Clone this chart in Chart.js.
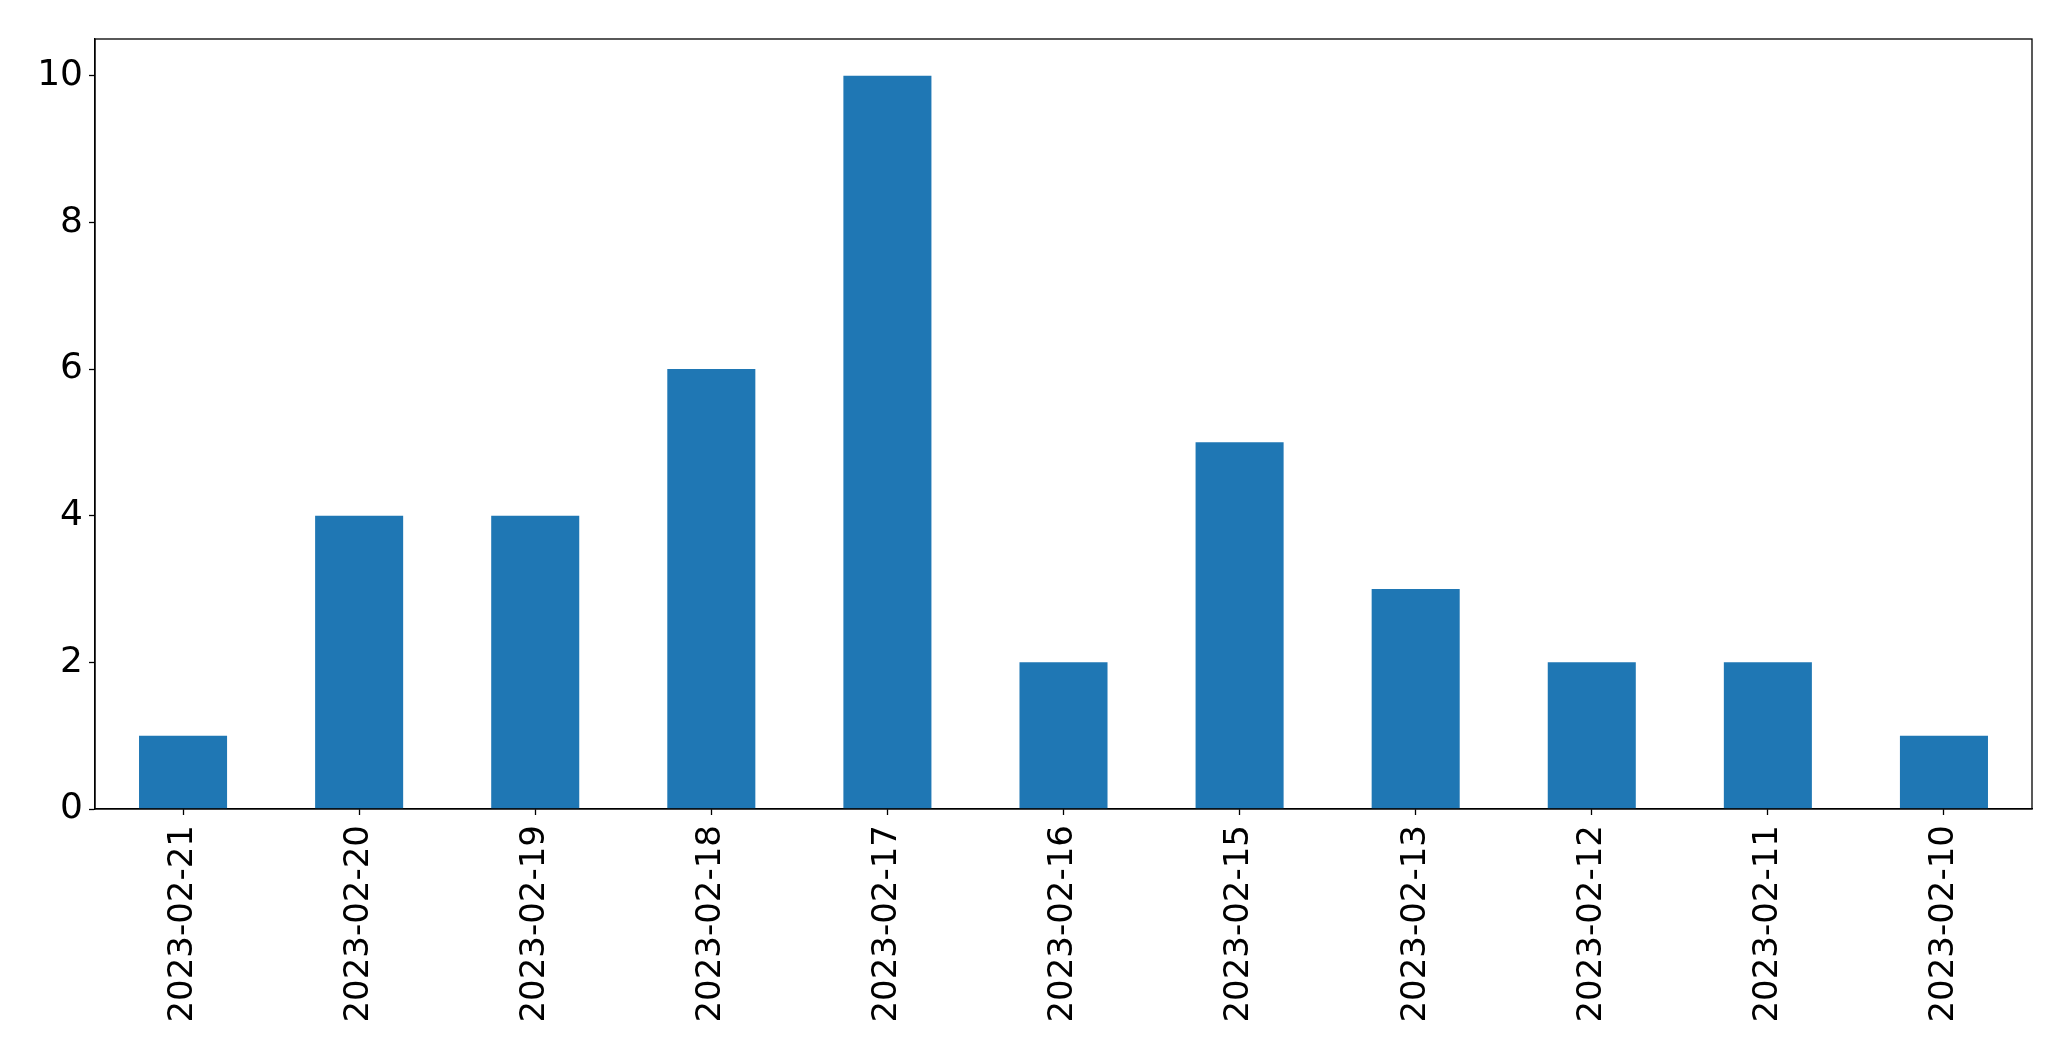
<!DOCTYPE html>
<html>
<head>
<meta charset="utf-8">
<script src="https://cdn.jsdelivr.net/npm/chart.js@4/dist/chart.umd.min.js"></script>
<style>
  html, body { margin: 0; padding: 0; background: #fff; }
  canvas { display: block; }
</style>
</head>
<body>
<canvas id="chart" width="2071" height="1061"></canvas>
<script>
// dates, newest first, as in the source plot
const dates = ['2023-02-21', '2023-02-20', '2023-02-19', '2023-02-18', '2023-02-17', '2023-02-16',
  '2023-02-15', '2023-02-13', '2023-02-12', '2023-02-11', '2023-02-10'];
const counts = [1, 4, 4, 6, 10, 2, 5, 3, 2, 2, 1];
const yTicks = [0, 2, 4, 6, 8, 10];

// draw the frame round the plot area
const frame = {
  id: 'frame',
  afterDraw(chart) {
    const a = chart.chartArea;
    const ctx = chart.ctx;
    ctx.save();
    ctx.strokeStyle = '#000';
    ctx.lineWidth = 1.3;
    ctx.strokeRect(a.left, a.top, a.right - a.left, a.bottom - a.top);
    ctx.restore();
  }
};

const ctx = document.getElementById('chart').getContext('2d');
new Chart(ctx, {
  type: 'bar',
  data: {
    labels: dates,
    datasets: [{
      data: counts,
      backgroundColor: '#1f77b4',
      borderWidth: 0,
      barPercentage: 0.5,
      categoryPercentage: 1.0
    }]
  },
  options: {
    responsive: false,
    animation: false,
    layout: { padding: { top: 39, right: 39, bottom: 0, left: 0 } },
    plugins: {
      legend: { display: false },
      tooltip: { enabled: false }
    },
    scales: {
      x: {
        grid: { display: true, offset: false, drawOnChartArea: false, drawTicks: true, tickLength: 6, tickColor: '#000', tickWidth: 1.3 },
        border: { display: true, color: '#000', width: 1.3 },
        ticks: {
          color: '#000',
          font: { family: 'DejaVu Sans', size: 34 },
          minRotation: 90,
          maxRotation: 90,
          padding: 10,
          autoSkip: false
        },
        afterFit(scale) { scale.height = 252; }
      },
      y: {
        min: 0,
        max: 10.5,
        grid: { display: true, drawOnChartArea: false, drawTicks: true, tickLength: 6, tickColor: '#000', tickWidth: 1.3 },
        border: { display: true, color: '#000', width: 1.3 },
        afterBuildTicks(scale) { scale.ticks = yTicks.map(v => ({ value: v })); },
        ticks: {
          color: '#000',
          font: { family: 'DejaVu Sans', size: 36 },
          padding: 6
        },
        afterFit(scale) { scale.width = 95; }
      }
    }
  },
  plugins: [frame]
});
</script>
</body>
</html>
